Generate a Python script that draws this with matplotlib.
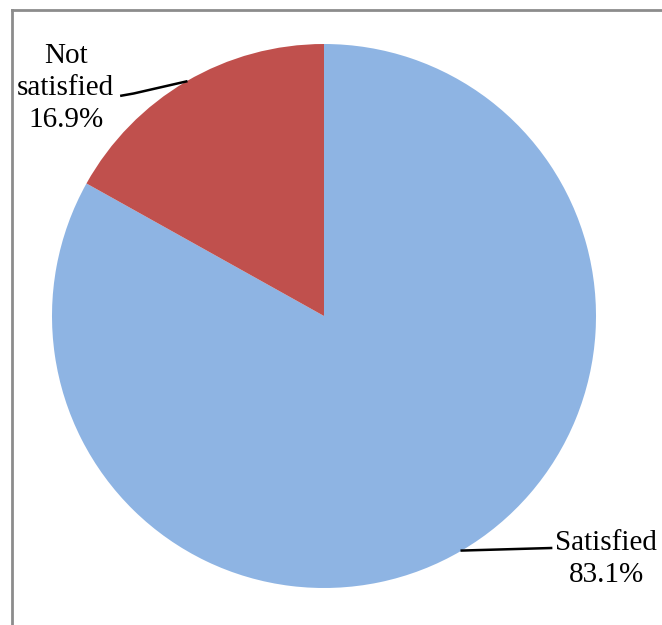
import numpy as np
import matplotlib
matplotlib.use("Agg")
import matplotlib.pyplot as plt
from matplotlib.lines import Line2D

labels = ["Satisfied", "Not\nsatisfied"]
values = [83.1, 16.9]
colors = ["#8EB4E3", "#C0504D"]

W, H = 662, 625
fig = plt.figure(figsize=(W / 100, H / 100), dpi=100)
plt.rcParams['font.family'] = ['Liberation Serif', 'DejaVu Serif']

# axes so that pie centre is at (324,316) px with radius 272 px
cx, cy, r = 324, 316, 272
ax = fig.add_axes([(cx - r) / W, 1 - (cy + r) / H, 2 * r / W, 2 * r / H])
wedges, _ = ax.pie(values, colors=colors, startangle=90, counterclock=False,
                   radius=1.0, wedgeprops=dict(linewidth=0))
ax.set_xlim(-1, 1)
ax.set_ylim(-1, 1)
ax.set_aspect('equal')
ax.axis('off')

# label positions (layout)
text_pos = [(1.037, -0.893), (-0.950, 0.838)]
leader_end = [(0.835, -0.853), (-0.745, 0.81)]
for w, lab, v, tp, le in zip(wedges, labels, values, text_pos, leader_end):
    ang = np.deg2rad((w.theta1 + w.theta2) / 2)
    px, py = np.cos(ang), np.sin(ang)
    if px < 0:
        xs = [px, le[0] + 0.045, le[0]]
        ys = [py, le[1] + 0.008, le[1]]
    else:
        xs = [px, le[0]]
        ys = [py, le[1]]
    ax.plot(xs, ys, color='black', lw=1.8, clip_on=False)
    ax.text(tp[0], tp[1], f"{lab}\n{v:.1f}%", ha='center', va='center',
            fontsize=21, linespacing=1.3, clip_on=False)

# frame (left and top border)
fig.add_artist(Line2D([11.5 / W, 11.5 / W], [0, 1 - 9.5 / H], color='#8c8c8c', lw=2,
                      transform=fig.transFigure))
fig.add_artist(Line2D([11.5 / W, 1], [1 - 9.5 / H, 1 - 9.5 / H], color='#8c8c8c', lw=2,
                      transform=fig.transFigure))

fig.savefig("out.png", dpi=100)
